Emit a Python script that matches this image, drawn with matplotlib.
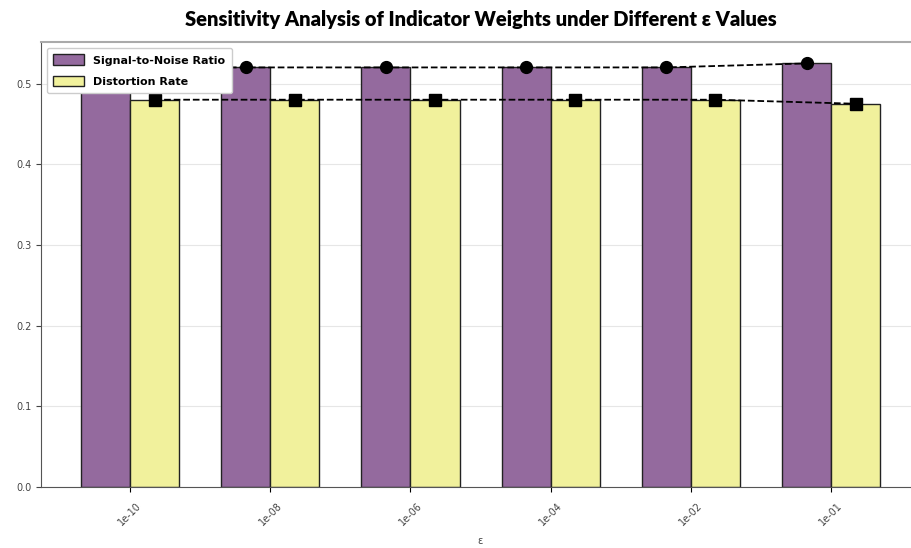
import numpy as np
import matplotlib.pyplot as plt

# epsilon values and results
eps_labels = ['1e-10', '1e-08', '1e-06', '1e-04', '1e-02', '1e-01']
snr = [0.52, 0.52, 0.52, 0.52, 0.52, 0.525]
distortion = [0.48, 0.48, 0.48, 0.48, 0.48, 0.475]

x = np.arange(len(eps_labels))
w = 0.35

fig = plt.figure(figsize=(9.11, 5.48), dpi=100)
ax = fig.add_axes([0.045, 0.111, 0.965, 0.812])

ax.bar(x - w / 2, snr, w, color='#946a9e', edgecolor='#222222', linewidth=1,
       label='Signal-to-Noise Ratio', zorder=2)
ax.bar(x + w / 2, distortion, w, color='#f1f19c', edgecolor='#222222', linewidth=1,
       label='Distortion Rate', zorder=2)

# trend lines on top of the bars
ax.plot(x - w / 2, snr, 'o--', color='black', markersize=8.5, linewidth=1.3, zorder=3)
ax.plot(x + w / 2, distortion, 's--', color='black', markersize=8.5, linewidth=1.3, zorder=3)

ax.set_xticks(x)
ax.set_xticklabels(eps_labels, rotation=45, fontsize=7, color='#444444')
ax.tick_params(axis='x', pad=6)
ax.tick_params(axis='y', labelsize=7, colors='#444444')
ax.set_xlabel('ε', fontsize=7, color='#444444', labelpad=6)
ax.yaxis.grid(True, color='#e6e6e6', linewidth=0.8, zorder=0)
ax.set_axisbelow(True)

for s in ['top', 'right']:
    ax.spines[s].set_color('#aaaaaa')
    ax.spines[s].set_linewidth(1.5)
for s in ['left', 'bottom']:
    ax.spines[s].set_color('#555555')

leg = ax.legend(loc='upper left', prop={'weight': 'bold', 'size': 8},
                framealpha=1, edgecolor='#cccccc', handlelength=2.8, handleheight=1.1,
                labelspacing=0.9, borderpad=0.6)
leg.set_zorder(5)

ax.set_title('Sensitivity Analysis of Indicator Weights under Different ε Values',
             fontsize=14.5, fontweight='heavy', family=['Lato', 'DejaVu Sans'], pad=12)

fig.savefig('out.png', dpi=100)
